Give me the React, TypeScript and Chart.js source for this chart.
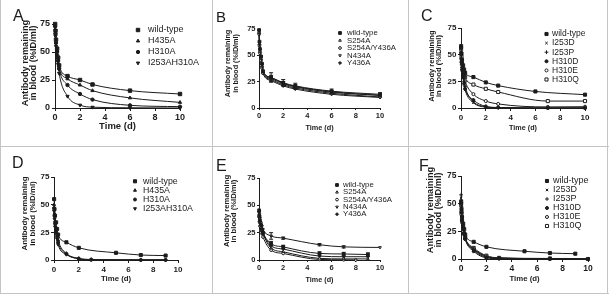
import React, { useEffect, useRef } from 'react';
import { Chart, registerables } from 'chart.js';
import { drawPoint } from 'chart.js/helpers';

Chart.register(...registerables);

const FONT = '"Liberation Sans", Arial, Helvetica, sans-serif';
const INK = '#1c1c1c';
const RULE = '#c4c4c4';

// ---------------- data ----------------
// Panel A
const A_TIMES = [0.01, 0.04, 0.08, 0.17, 0.25, 0.33, 1, 2, 3, 6, 10];
const A_WILDTYPE = [75, 69, 61, 53, 45, 38, 28.5, 25, 21, 15.5, 12.5];
const A_H435A = [74, 67, 59, 51, 43, 36, 26, 20.5, 15.5, 9, 5];
const A_H310A = [73, 66, 58, 50, 42, 35, 20.5, 12.5, 7.5, 2.4, 1.2];
const A_I253AH310A = [72, 64, 55, 47, 39, 31, 10.5, 2.6, 0.7, 0.2, 0];

// Panel B
const B_TIMES = [0.01, 0.04, 0.08, 0.17, 0.25, 0.33, 1, 2, 3, 6, 10];
const B_WILDTYPE = [74, 63, 56, 49, 42, 35, 29, 24, 21, 16, 13];
const B_WILDTYPE_ERR = [0, 0, 0, 0, 0, 0, 4.5, 3, 2.5, 2, 1.5];
const B_S254A = [72, 61, 54, 47, 40, 34, 28, 23, 20, 15, 12];
const B_S254A_ERR = [0, 0, 0, 0, 0, 0, 3, 2, 2, 1.5, 1.5];
const B_S254AY436A = [70, 59, 52, 45, 38, 33, 27, 22, 19, 14, 10.5];
const B_N434A = [73, 62, 55, 48, 41, 35, 29, 23.5, 20.5, 15.5, 12];
const B_Y436A = [71, 60, 53, 46, 39, 33, 26, 21, 18, 13, 10];

// Panel C
const C_TIMES = [0.01, 0.04, 0.08, 0.17, 0.25, 0.33, 1, 2, 3, 6, 7, 10];
const C_WILDTYPE = [58, 51, 45, 40, 36, 33, 29, 24, 21, 15.5, null, 12.5];
const C_I253D = [50, 42, 35, 28, 22, 17, 5, 0.8, 0.2, null, 0, 0];
const C_I253P = [56, 46, 38, 31, 25, 20, 6, 1.2, 0.3, null, 0, 0];
const C_H310D = [52, 43, 36, 29, 23, 18, 7.5, 1.5, 0.5, null, 0, 0];
const C_H310E = [54, 46, 40, 34, 29, 25, 13, 6.5, 3.8, null, 1, 1.2];
const C_H310Q = [56, 48, 42, 37, 33, 29, 22, 18, 15, null, 6.5, 6.5];

// Panel D
const D_TIMES = [0.01, 0.04, 0.08, 0.17, 0.25, 0.33, 1, 2, 3, 5, 7, 9];
const D_WILDTYPE = [55, 46, 40, 34, 28, 23, 16, 11, null, 6.5, 4.5, 4];
const D_H435A = [50, 42, 35, 29, 23, 18, 6, 1.5, 0.5, null, 0.2, 0.2];
const D_H310A = [47, 40, 33, 27, 21, 16, 5.5, 1.2, 0.3, null, 0, 0];
const D_I253AH310A = [44, 37, 30, 24, 19, 14, 5, 1, 0.2, null, 0, 0];

// Panel E
const E_TIMES = [0.01, 0.04, 0.08, 0.17, 0.25, 0.33, 1, 2, 5, 7, 8, 9, 10];
const E_WILDTYPE = [45, 40, 36, 32, 28, 25, 15, 12, 6, 5.5, null, 5, null];
const E_WILDTYPE_ERR = [0, 0, 0, 0, 0, 0, 2, 1.5, 1.5, 1.5, 0, 1.5, 0];
const E_S254A = [42, 38, 34, 30, 27, 24, 11, 7.5, 1.5, 1, null, 1, null];
const E_S254AY436A = [40, 35, 31, 27, 24, 21, 9, 6, 0.5, 0.2, 0, null, null];
const E_N434A = [46, 42, 38, 34, 31, 28, 22, 20, 14, 12, null, null, 11.5];
const E_N434A_ERR = [0, 0, 0, 0, 0, 0, 3, 1, 1, 1, 0, 0, 0];
const E_Y436A = [44, 39, 35, 31, 28, 25, 13, 10, 3.6, 3, null, 3, null];

// Panel F
const F_TIMES = [0.01, 0.04, 0.08, 0.17, 0.25, 0.33, 1, 2, 3, 5, 7, 9, 10];
const F_WILDTYPE = [52, 45, 38, 32, 27, 22, 15.5, 11, null, 7, 5.4, 4.8, null];
const F_I253D = [55, 45, 37, 30, 24, 19, 8, 1.5, 0.5, null, 0.1, null, 0];
const F_I253P = [58, 47, 38, 30, 24, 19, 9, 2, 0.7, null, 0.2, null, 0];
const F_H310D = [50, 42, 35, 28, 23, 18, 7, 1, 0.3, null, 0, null, 0];
const F_H310E = [48, 40, 33, 27, 22, 18, 9, 2.5, 1, null, 0.2, null, 0];
const F_H310Q = [50, 42, 35, 29, 23, 19, 10, 3, 1, null, 0.5, null, 0];

const X_TICK_STEP = 2;
const Y_TICK_STEP = 25;
const X_MAX = 10;
const Y_MAX = 75;
const X_TITLE = 'Time (d)';
const Y_TITLE = ['Antibody remaining', 'in blood (%ID/ml)'];

// ---------------- marker styles ----------------
type Mk = { style: string; fill: boolean; rot?: number; k: number };
const MARK: Record<string, Mk> = {
  'wild-type': { style: 'rect', fill: true, k: 1.15 },
  H435A: { style: 'triangle', fill: true, k: 0.9 },
  H310A: { style: 'circle', fill: true, k: 0.8 },
  I253AH310A: { style: 'triangle', fill: true, rot: 180, k: 0.9 },
  S254A: { style: 'triangle', fill: false, k: 0.9 },
  'S254A/Y436A': { style: 'circle', fill: false, k: 0.8 },
  N434A: { style: 'triangle', fill: false, rot: 180, k: 0.9 },
  Y436A: { style: 'rectRot', fill: true, k: 0.9 },
  I253D: { style: 'crossRot', fill: false, k: 0.9 },
  I253P: { style: 'cross', fill: false, k: 1 },
  H310D: { style: 'circle', fill: true, k: 0.8 },
  H310E: { style: 'circle', fill: false, k: 0.8 },
  H310Q: { style: 'rect', fill: false, k: 1.15 },
};

type Series = { label: string; values: (number | null)[]; errors?: number[] };
type PanelCfg = {
  letter: string;
  letterPos: { x: number; y: number; size: number };
  box: { x: number; y: number; w: number; h: number };
  pad: { l: number; t: number; r: number; b: number };
  yW: number;
  xH: number;
  tick: number;
  xTitle: number;
  yTitle: { x1: number; x2: number; cy: number; size: number };
  tl: number;
  yPad: number;
  xPad: number;
  r: number;
  legend: { mx: number; tx: number; y0: number; dy: number; size: number; r: number };
  times: number[];
  series: Series[];
};

const PANELS: PanelCfg[] = [
  {
    letter: 'A', letterPos: { x: 13, y: 8, size: 16 },
    box: { x: 0, y: 0, w: 212, h: 146 },
    pad: { l: 20.5, t: 24, r: 32, b: 14.5 }, yW: 34.5, xH: 23.5,
    tick: 9, xTitle: 9.5, yTitle: { x1: 25.5, x2: 33.5, cy: 63, size: 9.2 },
    tl: 3, yPad: 2, xPad: 1, r: 2.1,
    legend: { mx: 138, tx: 148, y0: 30, dy: 11, size: 9, r: 2.1 },
    times: A_TIMES,
    series: [
      { label: 'wild-type', values: A_WILDTYPE },
      { label: 'H435A', values: A_H435A },
      { label: 'H310A', values: A_H310A },
      { label: 'I253AH310A', values: A_I253AH310A },
    ],
  },
  {
    letter: 'B', letterPos: { x: 216, y: 9, size: 15 },
    box: { x: 212, y: 0, w: 196, h: 146 },
    pad: { l: 12, t: 29, r: 28, b: 14 }, yW: 35, xH: 24,
    tick: 7.5, xTitle: 7.3, yTitle: { x1: 16.3, x2: 24, cy: 63.5, size: 7.2 },
    tl: 2, yPad: 1.5, xPad: 1.5, r: 1.7,
    legend: { mx: 128, tx: 135, y0: 33, dy: 7.5, size: 7.8, r: 1.7 },
    times: B_TIMES,
    series: [
      { label: 'wild-type', values: B_WILDTYPE, errors: B_WILDTYPE_ERR },
      { label: 'S254A', values: B_S254A, errors: B_S254A_ERR },
      { label: 'S254A/Y436A', values: B_S254AY436A },
      { label: 'N434A', values: B_N434A },
      { label: 'Y436A', values: B_Y436A },
    ],
  },
  {
    letter: 'C', letterPos: { x: 421, y: 8, size: 16 },
    box: { x: 408, y: 0, w: 201, h: 146 },
    pad: { l: 20.5, t: 28, r: 24, b: 14 }, yW: 32.5, xH: 24,
    tick: 8, xTitle: 7.2, yTitle: { x1: 24, x2: 31, cy: 66, size: 7.6 },
    tl: 3, yPad: 1.5, xPad: 1.5, r: 1.9,
    legend: { mx: 138.5, tx: 144, y0: 34, dy: 9.1, size: 8.5, r: 1.9 },
    times: C_TIMES,
    series: [
      { label: 'wild-type', values: C_WILDTYPE },
      { label: 'I253D', values: C_I253D },
      { label: 'I253P', values: C_I253P },
      { label: 'H310D', values: C_H310D },
      { label: 'H310E', values: C_H310E },
      { label: 'H310Q', values: C_H310Q },
    ],
  },
  {
    letter: 'D', letterPos: { x: 12, y: 155, size: 16 },
    box: { x: 0, y: 147, w: 212, h: 147 },
    pad: { l: 21, t: 30, r: 34, b: 11 }, yW: 33, xH: 23,
    tick: 8, xTitle: 7.8, yTitle: { x1: 25, x2: 33, cy: 66.5, size: 7.9 },
    tl: 3, yPad: 1.5, xPad: 1.5, r: 1.9,
    legend: { mx: 135, tx: 143, y0: 34.3, dy: 9.1, size: 8.8, r: 1.9 },
    times: D_TIMES,
    series: [
      { label: 'wild-type', values: D_WILDTYPE },
      { label: 'H435A', values: D_H435A },
      { label: 'H310A', values: D_H310A },
      { label: 'I253AH310A', values: D_I253AH310A },
    ],
  },
  {
    letter: 'E', letterPos: { x: 216, y: 158, size: 16 },
    box: { x: 212, y: 147, w: 196, h: 147 },
    pad: { l: 11.2, t: 31, r: 28, b: 10.5 }, yW: 35.8, xH: 23.5,
    tick: 7.5, xTitle: 7.2, yTitle: { x1: 15, x2: 22, cy: 64, size: 7.7 },
    tl: 2, yPad: 1.5, xPad: 1.5, r: 1.7,
    legend: { mx: 125, tx: 131, y0: 38, dy: 7.3, size: 7.8, r: 1.7 },
    times: E_TIMES,
    series: [
      { label: 'wild-type', values: E_WILDTYPE, errors: E_WILDTYPE_ERR },
      { label: 'S254A', values: E_S254A },
      { label: 'S254A/Y436A', values: E_S254AY436A },
      { label: 'N434A', values: E_N434A, errors: E_N434A_ERR },
      { label: 'Y436A', values: E_Y436A },
    ],
  },
  {
    letter: 'F', letterPos: { x: 419, y: 158, size: 16 },
    box: { x: 408, y: 147, w: 201, h: 147 },
    pad: { l: 18, t: 29, r: 21, b: 11 }, yW: 35, xH: 24,
    tick: 8.5, xTitle: 7.8, yTitle: { x1: 22.5, x2: 30.5, cy: 63, size: 9.2 },
    tl: 3, yPad: 1.5, xPad: 1.5, r: 1.9,
    legend: { mx: 139, tx: 145, y0: 34, dy: 9, size: 9, r: 1.9 },
    times: F_TIMES,
    series: [
      { label: 'wild-type', values: F_WILDTYPE },
      { label: 'I253D', values: F_I253D },
      { label: 'I253P', values: F_I253P },
      { label: 'H310D', values: F_H310D },
      { label: 'H310E', values: F_H310E },
      { label: 'H310Q', values: F_H310Q },
    ],
  },
];

// ---------------- plugins ----------------
const insetLegend = {
  id: 'insetLegend',
  afterDraw(chart: any, _args: any, opts: any) {
    const { ctx } = chart;
    chart.data.datasets.forEach((ds: any, i: number) => {
      const y = opts.y0 + i * opts.dy;
      ctx.save();
      ctx.fillStyle = ds.pointBackgroundColor;
      ctx.strokeStyle = INK;
      ctx.lineWidth = 1;
      drawPoint(ctx, { pointStyle: ds.pointStyle, rotation: ds.pointRotation || 0, radius: opts.r * ds.markK, borderWidth: 1 } as any, opts.mx, y);
      ctx.fillStyle = INK;
      ctx.font = `${opts.size}px ${FONT}`;
      ctx.textAlign = 'left';
      ctx.textBaseline = 'middle';
      ctx.fillText(ds.label, opts.tx, y);
      ctx.restore();
    });
  },
};

// two-line rotated y-axis title, placed like the reference (a little above the axis centre)
const yAxisTitle = {
  id: 'yAxisTitle',
  afterDraw(chart: any, _args: any, o: any) {
    const { ctx } = chart;
    ctx.save();
    ctx.fillStyle = INK;
    ctx.font = `bold ${o.size}px ${FONT}`;
    ctx.textAlign = 'center';
    ctx.textBaseline = 'middle';
    Y_TITLE.forEach((t, i) => {
      ctx.save();
      ctx.translate(i === 0 ? o.x1 : o.x2, o.cy);
      ctx.rotate(-Math.PI / 2);
      ctx.fillText(t, 0, 0);
      ctx.restore();
    });
    ctx.restore();
  },
};

const errorBars = {
  id: 'errorBars',
  afterDatasetsDraw(chart: any) {
    const { ctx } = chart;
    const ys = chart.scales.y;
    chart.data.datasets.forEach((ds: any, i: number) => {
      const meta = chart.getDatasetMeta(i);
      ds.data.forEach((d: any, j: number) => {
        if (!d || !d.e) return;
        const el = meta.data[j];
        if (!el) return;
        const x = el.x;
        const y1 = ys.getPixelForValue(d.y + d.e);
        const y2 = ys.getPixelForValue(Math.max(0, d.y - d.e));
        ctx.save();
        ctx.strokeStyle = INK;
        ctx.lineWidth = 1;
        ctx.beginPath();
        ctx.moveTo(x, y1); ctx.lineTo(x, y2);
        ctx.moveTo(x - 2, y1); ctx.lineTo(x + 2, y1);
        ctx.moveTo(x - 2, y2); ctx.lineTo(x + 2, y2);
        ctx.stroke();
        ctx.restore();
      });
    });
  },
};

// ---------------- components ----------------
function Panel({ cfg }: { cfg: PanelCfg }) {
  const ref = useRef<HTMLCanvasElement | null>(null);
  useEffect(() => {
    if (!ref.current) return;
    const datasets = cfg.series.map((s) => {
      const mk = MARK[s.label];
      const data = cfg.times
        .map((t, i) => (s.values[i] == null ? null : { x: t, y: s.values[i] as number, e: s.errors ? s.errors[i] : 0 }))
        .filter((d) => d !== null);
      return {
        label: s.label,
        data,
        showLine: true,
        borderColor: INK,
        borderWidth: 1,
        cubicInterpolationMode: 'monotone',
        pointStyle: mk.style,
        pointRotation: mk.rot || 0,
        pointRadius: cfg.r * mk.k,
        pointBorderWidth: 1,
        pointBorderColor: INK,
        pointBackgroundColor: mk.fill ? INK : '#ffffff',
        markK: mk.k,
        clip: false,
      };
    });
    const tickFont = { family: FONT, size: cfg.tick, weight: 'bold' as const };
    const titleFont = { family: FONT, size: cfg.xTitle, weight: 'bold' as const, lineHeight: 1 };
    const grid = { display: true, drawOnChartArea: false, drawTicks: true, tickLength: cfg.tl, color: INK, lineWidth: 1 };
    const border = { display: true, color: INK, width: 1 };
    const chart = new Chart(ref.current, {
      type: 'scatter',
      data: { datasets: datasets as any },
      options: {
        responsive: false,
        animation: false,
        devicePixelRatio: 1,
        events: [],
        layout: { padding: { left: cfg.pad.l, top: cfg.pad.t, right: cfg.pad.r, bottom: cfg.pad.b } },
        plugins: {
          legend: { display: false },
          tooltip: { enabled: false },
          insetLegend: cfg.legend,
          yAxisTitle: cfg.yTitle,
        } as any,
        scales: {
          x: {
            type: 'linear',
            min: 0,
            max: X_MAX,
            ticks: { stepSize: X_TICK_STEP, font: tickFont, color: INK, padding: cfg.xPad, maxRotation: 0, autoSkip: false },
            grid,
            border,
            title: { display: true, text: X_TITLE, font: titleFont, color: INK, padding: { top: 0, bottom: 0 } },
            afterFit: (s: any) => { s.height = cfg.xH; },
          },
          y: {
            type: 'linear',
            min: 0,
            max: Y_MAX,
            ticks: { stepSize: Y_TICK_STEP, font: tickFont, color: INK, padding: cfg.yPad },
            grid,
            border,
            title: { display: false },
            afterFit: (s: any) => { s.width = cfg.yW; },
          },
        } as any,
      },
      plugins: [insetLegend, yAxisTitle, errorBars],
    });
    return () => chart.destroy();
  }, [cfg]);
  const { x, y, w, h } = cfg.box;
  return (
    <>
      <canvas ref={ref} width={w} height={h} style={{ position: 'absolute', left: x, top: y, width: w, height: h, display: 'block' }} />
      <div
        style={{
          position: 'absolute', left: cfg.letterPos.x, top: cfg.letterPos.y,
          fontFamily: FONT, fontSize: cfg.letterPos.size, lineHeight: 1, color: INK,
        }}
      >
        {cfg.letter}
      </div>
    </>
  );
}

export default function App() {
  const line = (s: React.CSSProperties) => <div style={{ position: 'absolute', background: RULE, ...s }} />;
  return (
    <div style={{ position: 'absolute', left: 0, top: 0, width: 609, height: 294, background: '#fff', overflow: 'hidden' }}>
      {PANELS.map((p) => (
        <Panel key={p.letter} cfg={p} />
      ))}
      {line({ left: 212, top: 0, width: 1, height: 294 })}
      {line({ left: 408, top: 0, width: 1, height: 294 })}
      {line({ left: 0, top: 146, width: 609, height: 1 })}
      {line({ left: 0, top: 0, width: 1, height: 294 })}
      {line({ left: 0, top: 293, width: 609, height: 1 })}
      {line({ left: 607, top: 0, width: 1, height: 294 })}
    </div>
  );
}
